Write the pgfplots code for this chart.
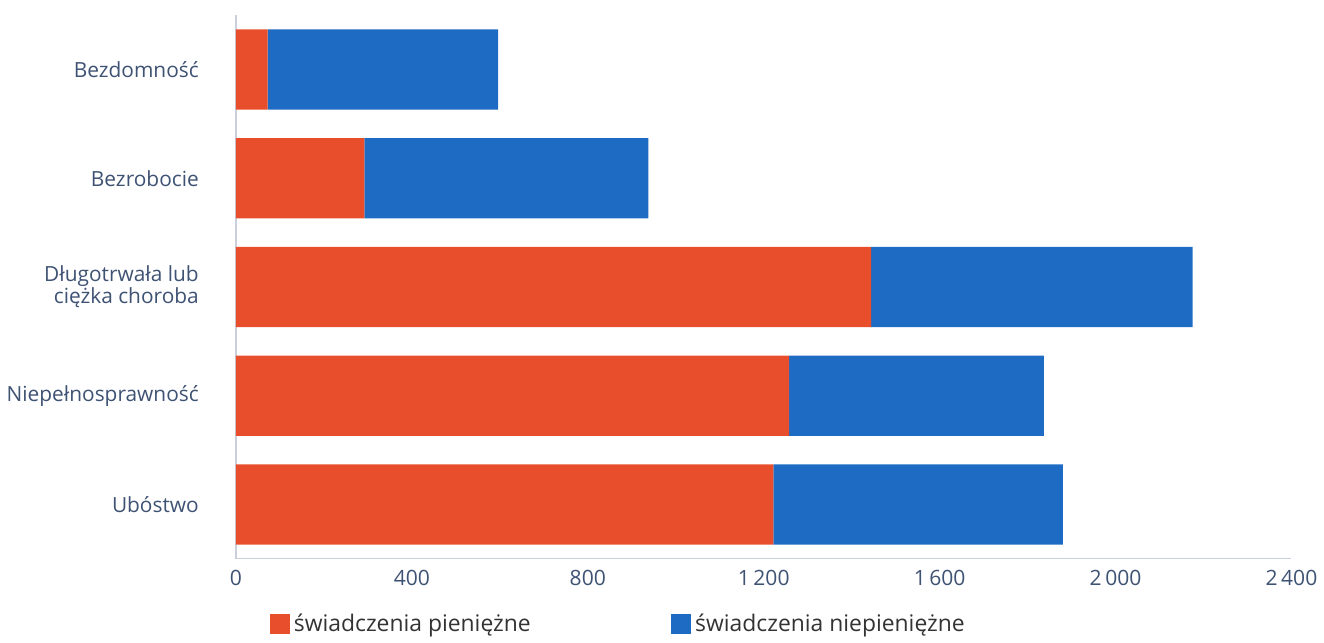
\documentclass[border=0pt]{standalone}
\usepackage{pgfplots}
\pgfplotsset{compat=1.18}
\usepackage{fontspec}
\setmainfont{Open Sans}
\definecolor{redA}{HTML}{E94E2C}
\definecolor{bluA}{HTML}{1E6BC4}
\definecolor{lab}{HTML}{3E5273}
\definecolor{axl}{HTML}{C9CFDD}
\begin{document}
\begin{tikzpicture}
\begin{axis}[
  name=ax,
  scale only axis,
  width=526pt, height=271pt,
  xbar stacked,
  bar width=40pt,
  xmin=0, xmax=2400,
  ymin=-0.5, ymax=4.5,
  ytick={0,1,2,3,4},
  yticklabels={Ubóstwo,Niepełnosprawność,{Długotrwała lub\\ciężka choroba},Bezrobocie,Bezdomność},
  yticklabel style={font=\fontsize{10.4}{11}\selectfont, text=lab, align=right, xshift=-15pt},
  xtick={0,400,800,1200,1600,2000,2400},
  xticklabels={0,400,800,1\,200,1\,600,2\,000,2\,400},
  xticklabel style={font=\fontsize{10.5}{12}\selectfont, text=lab, yshift=-2pt},
  /pgf/number format/assume math mode=true,
  axis x line*=bottom,
  axis y line*=left,
  axis line style={axl, line width=0.6pt},
  x axis line style={-},
  y axis line style={-},
  major tick length=0pt,
  legend style={draw=none, fill=none, at={(0.026,-0.085)}, anchor=north west,
    legend columns=2, font=\fontsize{11.4}{13}\selectfont, text=black!80,
    /tikz/every even column/.append style={column sep=68pt}},
  legend image code/.code={\fill[#1] (0pt,-5pt) rectangle (10pt,5pt);},
]
\addplot[draw=none, fill=redA] coordinates {
  (1222,0) (1258,1) (1444,2) (292,3) (72,4)};
\addlegendentry{świadczenia pieniężne}
\addplot[draw=none, fill=bluA] coordinates {
  (658,0) (579,1) (731,2) (646,3) (524,4)};
\addlegendentry{świadczenia niepieniężne}
\end{axis}
\path (ax.north west) ++(0,7.5pt);
\end{tikzpicture}
\end{document}
